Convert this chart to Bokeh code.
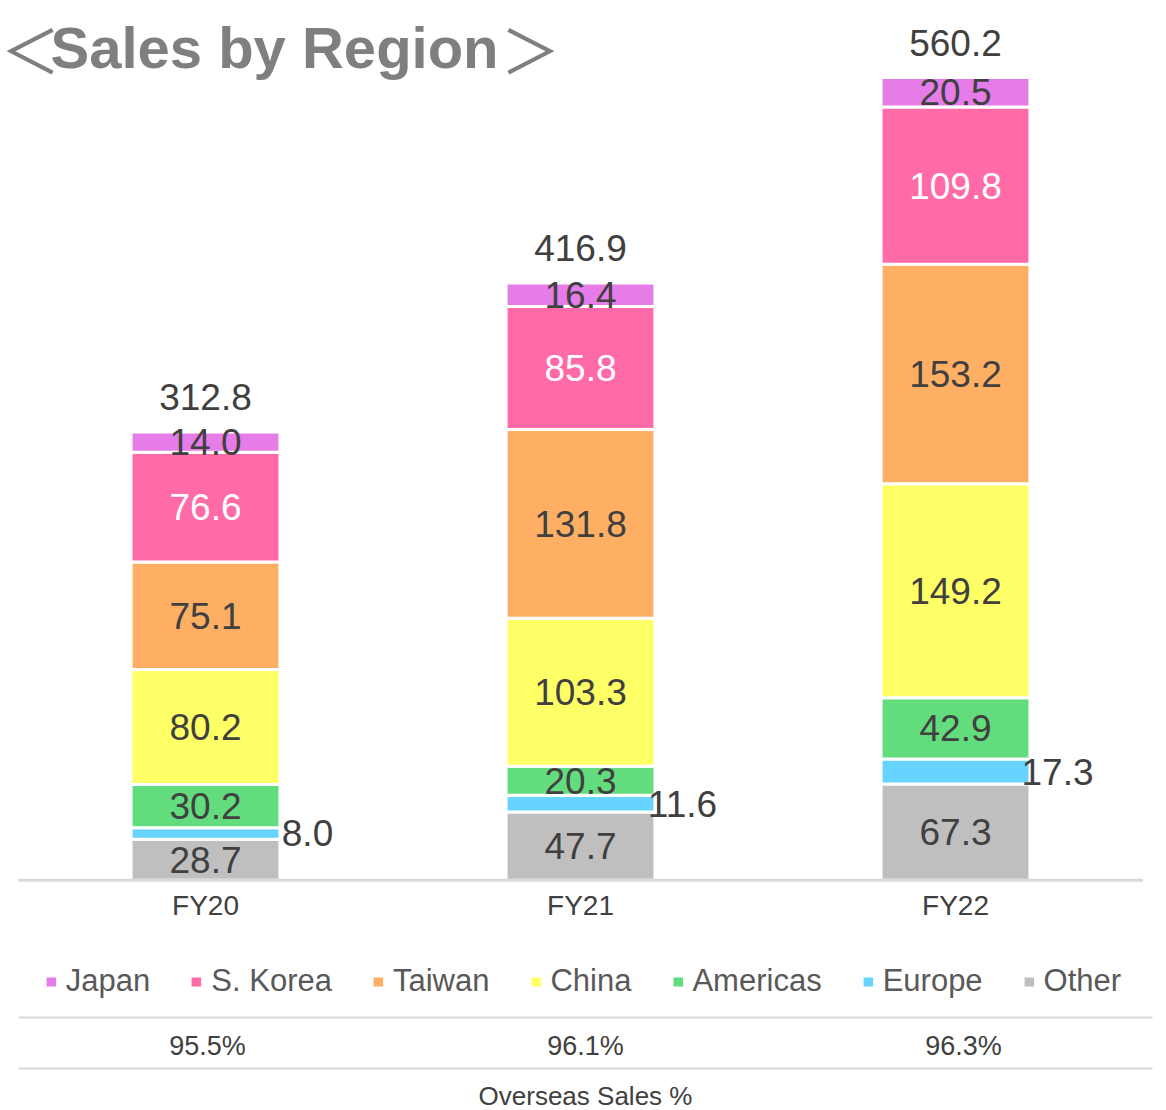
from bokeh.plotting import figure
from bokeh.models import (ColumnDataSource, Range1d, Label, Legend, LegendItem, FixedTicker)
from bokeh.layouts import column
from bokeh.transform import dodge
from bokeh.core.properties import value
from bokeh.embed import file_html
from bokeh.resources import INLINE

# ---------------- data ----------------
years = ["FY20", "FY21", "FY22"]
other = [28.7, 47.7, 67.3]
europe = [8.0, 11.6, 17.3]
americas = [30.2, 20.3, 42.9]
china = [80.2, 103.3, 149.2]
taiwan = [75.1, 131.8, 153.2]
korea = [76.6, 85.8, 109.8]
japan = [14.0, 16.4, 20.5]
totals = [312.8, 416.9, 560.2]
overseas = ["95.5%", "96.1%", "96.3%"]

series_names = ["Other", "Europe", "Americas", "China", "Taiwan", "S. Korea", "Japan"]
series_vals = [other, europe, americas, china, taiwan, korea, japan]
colors = ["#BFBFBF", "#66D4FF", "#63DC7E", "#FFFF66", "#FFAF64", "#FF6AA7", "#E57CE8"]
legend_order = ["Japan", "S. Korea", "Taiwan", "China", "Americas", "Europe", "Other"]

FONT = "Liberation Sans"
DARK = "#404040"
W = 1166

# ---------------- main chart ----------------
xs = list(range(len(years)))          # category positions
XSTART = -205 / 375.0                 # view window (first category 205 px from the left)
XEND = XSTART + W / 375.0
YMIN, YMAX = -1.5, 614
FRAME_H = 882

p = figure(x_range=Range1d(XSTART, XEND), y_range=Range1d(YMIN, YMAX),
           width=W, height=935, output_backend="svg", toolbar_location=None,
           min_border_left=0, min_border_right=0, min_border_top=0, min_border_bottom=53,
           y_axis_location=None)
p.outline_line_color = None
p.xgrid.visible = False
p.ygrid.visible = False

data = {"x": xs}
for n, v in zip(series_names, series_vals):
    data[n] = v
src = ColumnDataSource(data)
p.vbar_stack(series_names, x="x", width=0.397, source=src, color=colors,
             line_color="white", line_width=3)

# baseline (category axis line) spanning the categories
p.segment(x0=dodge("a", -0.5), x1=dodge("b", 0.5), y0=0, y1=0,
          source=ColumnDataSource(dict(a=[xs[0]], b=[xs[-1]])),
          line_color="#D9D9D9", line_width=3)

# segment labels
lx, ly, lt, lc, ex, ey, et = [], [], [], [], [], [], []
for i, xpos in enumerate(xs):
    base = 0.0
    for n, v in zip(series_names, series_vals):
        mid = base + v[i] / 2
        if n == "Europe":
            ex.append(xpos); ey.append(mid); et.append(f"{v[i]:.1f}")
        else:
            lx.append(xpos); ly.append(mid); lt.append(f"{v[i]:.1f}")
            lc.append("white" if n == "S. Korea" else DARK)
        base += v[i]

p.text(x="x", y="y", text="t", text_color="c",
       source=ColumnDataSource(dict(x=lx, y=ly, t=lt, c=lc)),
       text_font=value(FONT), text_font_size="37px",
       text_align="center", text_baseline="middle")
p.text(x=dodge("x", 0.272), y="y", text="t",
       source=ColumnDataSource(dict(x=ex, y=ey, t=et)),
       text_color=DARK, text_font=value(FONT), text_font_size="37px",
       text_align="center", text_baseline="middle")
p.text(x="x", y="y", text="t",
       source=ColumnDataSource(dict(x=xs, y=totals, t=[f"{t:.1f}" for t in totals])),
       text_color=DARK, text_font=value(FONT), text_font_size="37px",
       text_align="center", text_baseline="middle", y_offset=-35)

p.xaxis.ticker = FixedTicker(ticks=xs)
p.xaxis.major_label_overrides = {x: yr for x, yr in zip(xs, years)}
p.xaxis.axis_line_color = None
p.xaxis.major_tick_line_color = None
p.xaxis.minor_tick_line_color = None
p.xaxis.major_label_text_font = FONT
p.xaxis.major_label_text_font_size = "28px"
p.xaxis.major_label_text_color = DARK
p.xaxis.major_label_standoff = 1

# title (canvas pixels converted into the frame's coordinates)
def cx(px):
    return XSTART + px / 375.0

def cy(py):
    return YMAX - py * (YMAX - YMIN) / FRAME_H

base_y = cy(47)
p.add_layout(Label(x=cx(0), y=base_y, text="＜", text_font="Noto Sans CJK JP",
                   text_font_size="60px", text_color="#7F7F7F", text_align="left",
                   text_baseline="alphabetic"))
p.add_layout(Label(x=cx(50), y=base_y, text="Sales by Region", text_font=FONT,
                   text_font_size="58px", text_font_style="bold", text_color="#7F7F7F",
                   text_align="left", text_baseline="alphabetic"))
p.add_layout(Label(x=cx(530), y=base_y, text="＞", text_font="Noto Sans CJK JP",
                   text_font_size="60px", text_color="#7F7F7F", text_align="center",
                   text_baseline="alphabetic"))

# ---------------- legend + table ----------------
QSTART = -207 / 378.0
q = figure(x_range=Range1d(QSTART, QSTART + W / 378.0), y_range=Range1d(0, 175),
           width=W, height=175, output_backend="svg", toolbar_location=None,
           min_border_left=0, min_border_right=0, min_border_top=0, min_border_bottom=0,
           x_axis_location=None, y_axis_location=None)
q.outline_line_color = None
q.xgrid.visible = False
q.ygrid.visible = False

cmap = dict(zip(series_names, colors))
items = []
for n in legend_order:
    r = q.vbar(x=[xs[0]], top=[0], bottom=[0], width=0.01, fill_color=cmap[n],
               line_color=None)
    items.append(LegendItem(label=n, renderers=[r]))
leg = Legend(items=items, orientation="horizontal", location="top_center",
             glyph_width=12, glyph_height=11, label_standoff=9, spacing=40,
             label_text_font=FONT, label_text_font_size="31px", label_text_color="#595959",
             border_line_color=None, background_fill_alpha=0, padding=0, margin=28)
q.add_layout(leg)

# table rules spanning the categories
q.segment(x0=dodge("a", -0.5), x1=dodge("b", 0.5), y0="y", y1="y",
          source=ColumnDataSource(dict(a=[xs[0]] * 2, b=[xs[-1]] * 2, y=[93, 42])),
          line_color="#D9D9D9", line_width=2)
q.text(x="x", y="y", text="t",
       source=ColumnDataSource(dict(x=xs, y=[65] * 3, t=overseas)),
       text_color=DARK, text_font=value(FONT), text_font_size="27px",
       text_align="center", text_baseline="middle")
q.text(x=[xs[1]], y=[15], text=["Overseas Sales %"],
       text_color=DARK, text_font=value(FONT), text_font_size="26px",
       text_align="center", text_baseline="middle")

layout = column(p, q, spacing=0)
open("out.html", "w").write(file_html(layout, INLINE))
